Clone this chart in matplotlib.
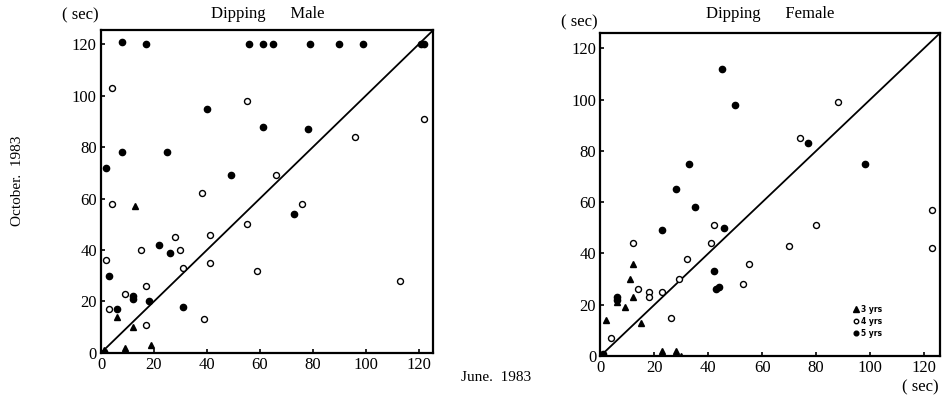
# Dipping - Male / Female: June 1983 vs October 1983
import matplotlib
matplotlib.use('Agg')
import matplotlib.pyplot as plt

plt.rcParams['font.family'] = ['Liberation Serif', 'DejaVu Serif']

# Male - 3 yrs (triangles)
m3_x = [13, 6, 12, 9, 19, 1, 0, 2]
m3_y = [57, 14, 10, 2, 3, 1, 0, 0.5]
# Male - 4 yrs (open)
m4_x = [4, 55, 38, 122, 96, 66, 4, 55, 41, 28, 15, 30, 2, 41, 31, 59, 17, 9, 3, 17, 39, 76, 113]
m4_y = [103, 98, 62, 91, 84, 69, 58, 50, 46, 45, 40, 40, 36, 35, 33, 32, 26, 23, 17, 11, 13, 58, 28]
# Male - 5 yrs (filled)
m5_x = [8, 17, 56, 61, 65, 79, 90, 99, 121, 122, 40, 8, 25, 2, 49, 61, 78, 22, 26, 3, 12, 12, 18, 31, 6, 73]
m5_y = [121, 120, 120, 120, 120, 120, 120, 120, 120, 120, 95, 78, 78, 72, 69, 88, 87, 42, 39, 30, 22, 21, 20, 18, 17, 54]

# Female - 3 yrs
f3_x = [12, 11, 12, 9, 2, 15, 23, 28, 30, 6]
f3_y = [36, 30, 23, 19, 14, 13, 2, 2, 0, 21]
# Female - 4 yrs
f4_x = [88, 74, 42, 12, 41, 32, 55, 29, 53, 14, 18, 18, 23, 26, 4, 123, 80, 70, 123]
f4_y = [99, 85, 51, 44, 44, 38, 36, 30, 28, 26, 25, 23, 25, 15, 7, 57, 51, 43, 42]
# Female - 5 yrs
f5_x = [45, 50, 33, 28, 77, 98, 35, 23, 46, 42, 44, 43, 6, 6, 1, 0]
f5_y = [112, 98, 75, 65, 83, 75, 58, 49, 50, 33, 27, 26, 23, 22, 1, 0]

ticks = [0, 20, 40, 60, 80, 100, 120]

fig = plt.figure(figsize=(9.44, 4.01), dpi=100)
ax1 = fig.add_axes([0.107, 0.12, 0.352, 0.805])
ax2 = fig.add_axes([0.636, 0.112, 0.360, 0.806])


def painel(ax, x3, y3, x4, y4, x5, y5, lim):
    ax.plot([0, lim], [0, lim], color='black', lw=1.3, zorder=1)
    ax.plot(x3, y3, '^', color='black', ms=5, ls='none', label='3 yrs', zorder=3)
    ax.plot(x4, y4, 'o', mfc='white', mec='black', mew=1.0, ms=4.3, ls='none', label='4 yrs', zorder=3)
    ax.plot(x5, y5, 'o', color='black', ms=4.5, ls='none', label='5 yrs', zorder=3)
    ax.set_xlim(0, lim)
    ax.set_ylim(0, lim)
    ax.set_xticks(ticks)
    ax.set_yticks(ticks)
    ax.tick_params(direction='in', length=3, width=1.2, labelsize=12, pad=3)
    for s in ax.spines.values():
        s.set_linewidth(1.6)
    return ax


painel(ax1, m3_x, m3_y, m4_x, m4_y, m5_x, m5_y, 125.5)
painel(ax2, f3_x, f3_y, f4_x, f4_y, f5_x, f5_y, 126)

# Titulos
fig.text(0.284, 0.965, 'Dipping      Male', ha='center', va='center', fontsize=12)
fig.text(0.816, 0.965, 'Dipping      Female', ha='center', va='center', fontsize=12)
fig.text(0.085, 0.962, '( sec)', ha='center', va='center', fontsize=12)
fig.text(0.614, 0.945, '( sec)', ha='center', va='center', fontsize=12)
fig.text(0.019, 0.55, 'October.  1983', ha='center', va='center', rotation=90, fontsize=11)
fig.text(0.525, 0.058, 'June.  1983', ha='center', va='center', fontsize=11)
fig.text(0.975, 0.035, '( sec)', ha='center', va='center', fontsize=12)

# Legenda
ax2.legend(loc='lower right', bbox_to_anchor=(0.84, 0.045), frameon=False,
           prop={'family': 'DejaVu Sans', 'size': 5.5, 'weight': 'bold'},
           handlelength=0.6, handletextpad=0.4, labelspacing=0.4,
           markerscale=0.75, borderpad=0)

fig.savefig('out.png', dpi=100)
